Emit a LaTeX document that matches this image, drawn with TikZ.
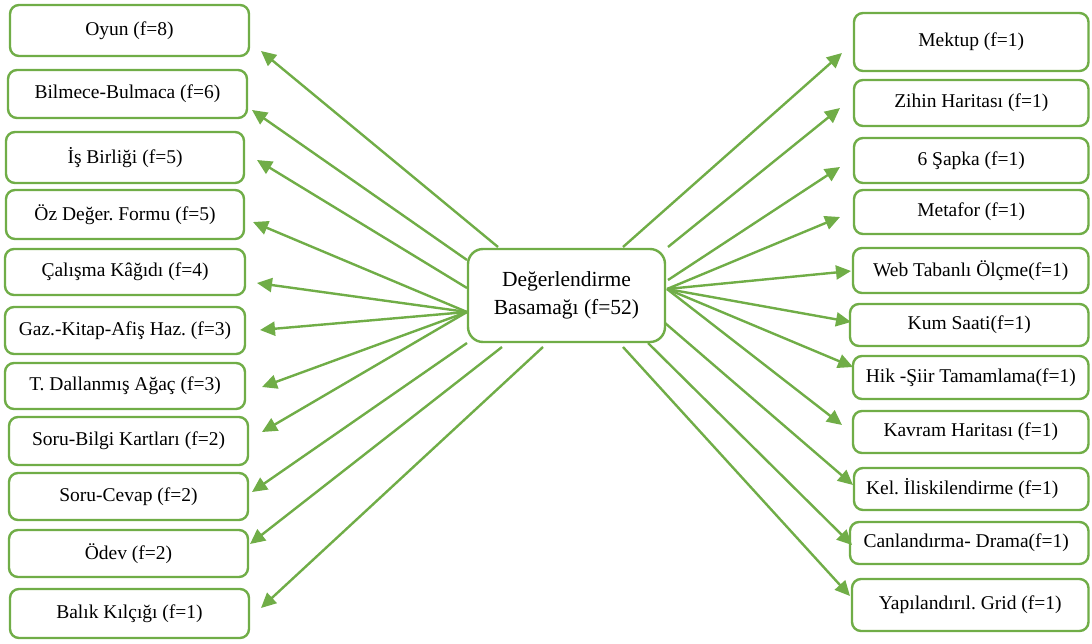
\documentclass[tikz,border=0pt]{standalone}
\usepackage{fontspec}
\setmainfont{Liberation Serif}
\frenchspacing
\usetikzlibrary{arrows.meta}
\definecolor{grn}{RGB}{112,173,71}
\tikzset{
  box/.style={draw=grn, line width=2.4pt, rounded corners=9pt, fill=white, inner sep=0pt,
    font=\fontsize{19.5}{22}\selectfont, text=black},
  cbox/.style={draw=grn, line width=2.4pt, rounded corners=15pt, fill=white, inner sep=0pt,
    align=center, font=\fontsize{21.5}{28}\selectfont, text=black},
  arr/.style={draw=grn, line width=2.4pt, -{Triangle[length=15pt,width=14pt]}}
}
\begin{document}
\begin{tikzpicture}[x=1pt,y=-1pt]
\useasboundingbox (0,0) rectangle (1092,643);
% centre
\node[cbox, minimum width=197pt, minimum height=93pt] (c) at (566.5,295.5) {Değerlendirme\\Basamağı (f=52)};
% left boxes
\node[box, minimum width=239pt, minimum height=51pt] (l1) at (129.5,30.5) {Oyun (f=8)};
\node[box, minimum width=239pt, minimum height=48pt] (l2) at (127.5,94) {Bilmece-Bulmaca (f=6)};
\node[box, minimum width=238pt, minimum height=51pt] (l3) at (125,157.5) {İş Birliği (f=5)};
\node[box, minimum width=238pt, minimum height=49pt] (l4) at (125,214.5) {Öz Değer. Formu (f=5)};
\node[box, minimum width=240pt, minimum height=46pt] (l5) at (125,272) {Çalışma Kâğıdı (f=4)};
\node[box, minimum width=240pt, minimum height=47pt] (l6) at (125,330.5) {Gaz.-Kitap-Afiş Haz. (f=3)};
\node[box, minimum width=240pt, minimum height=46pt] (l7) at (125,386) {T. Dallanmış Ağaç (f=3)};
\node[box, minimum width=239pt, minimum height=48pt] (l8) at (128.5,441) {Soru-Bilgi Kartları (f=2)};
\node[box, minimum width=239pt, minimum height=47pt] (l9) at (128.5,496.5) {Soru-Cevap (f=2)};
\node[box, minimum width=239pt, minimum height=47pt] (l10) at (128.5,553.5) {Ödev (f=2)};
\node[box, minimum width=239pt, minimum height=49pt] (l11) at (129.5,613.5) {Balık Kılçığı (f=1)};
% right boxes
\node[box, minimum width=234.5pt, minimum height=58pt] (r1) at (971.25,42) {\raisebox{5pt}{Mektup (f=1)}};
\node[box, minimum width=234.5pt, minimum height=46pt] (r2) at (971.25,103) {Zihin Haritası (f=1)};
\node[box, minimum width=234.5pt, minimum height=45pt] (r3) at (971.25,160.5) {6 Şapka (f=1)};
\node[box, minimum width=234.5pt, minimum height=44pt] (r4) at (971.25,212) {Metafor (f=1)};
\node[box, minimum width=235.5pt, minimum height=45pt] (r5) at (970.75,270.5) {Web Tabanlı Ölçme(f=1)};
\node[box, minimum width=238.5pt, minimum height=42pt] (r6) at (969.25,325) {Kum Saati(f=1)};
\node[box, minimum width=235.5pt, minimum height=43pt] (r7) at (970.75,377.5) {Hik -Şiir Tamamlama(f=1)};
\node[box, minimum width=235.5pt, minimum height=42pt] (r8) at (970.75,432) {Kavram Haritası (f=1)};
\node[box, minimum width=234.5pt, minimum height=42pt] (r9) at (971.25,489) {\hspace*{-18pt}Kel. İliskilendirme (f=1)};
\node[box, minimum width=238.5pt, minimum height=42pt] (r10) at (969.25,543) {\hspace*{-6pt}Canlandırma- Drama(f=1)};
\node[box, minimum width=236.5pt, minimum height=52pt] (r11) at (970.25,605) {Yapılandırıl. Grid (f=1)};
% start points on the centre box
\coordinate (sa1) at (498,247);
\coordinate (sa2) at (467,260);
\coordinate (sa3) at (467,288);
\coordinate (sL)  at (467,312);
\coordinate (sa9) at (467,343);
\coordinate (sa10) at (502,347);
\coordinate (sa11) at (543,347);
\coordinate (sb1) at (623,247);
\coordinate (sb2) at (668,247);
\coordinate (sb3) at (668,280);
\coordinate (sR)  at (667,289);
\coordinate (sb9) at (665,323);
\coordinate (sb10) at (648,343);
\coordinate (sb11) at (623,347);
% arrow tips near the boxes
\coordinate (ta1) at (261,51);
\coordinate (ta2) at (252,110);
\coordinate (ta3) at (257,160);
\coordinate (ta4) at (253,222);
\coordinate (ta5) at (257,283);
\coordinate (ta6) at (260,330);
\coordinate (ta7) at (262,387);
\coordinate (ta8) at (262,432);
\coordinate (ta9) at (252,492);
\coordinate (ta10) at (250,544);
\coordinate (ta11) at (261,608);
\coordinate (tb1) at (842,53);
\coordinate (tb2) at (840,108);
\coordinate (tb3) at (840,167);
\coordinate (tb4) at (840,217);
\coordinate (tb5) at (851,271);
\coordinate (tb6) at (851,322);
\coordinate (tb7) at (853,367);
\coordinate (tb8) at (842,425);
\coordinate (tb9) at (853,485);
\coordinate (tb10) at (852,545);
\coordinate (tb11) at (850,596);
% arrows
\draw[arr] (sa1) -- (ta1);
\draw[arr] (sa2) -- (ta2);
\draw[arr] (sa3) -- (ta3);
\draw[arr] (sL) -- (ta4);
\draw[arr] (sL) -- (ta5);
\draw[arr] (sL) -- (ta6);
\draw[arr] (sL) -- (ta7);
\draw[arr] (sL) -- (ta8);
\draw[arr] (sa9) -- (ta9);
\draw[arr] (sa10) -- (ta10);
\draw[arr] (sa11) -- (ta11);
\draw[arr] (sb1) -- (tb1);
\draw[arr] (sb2) -- (tb2);
\draw[arr] (sb3) -- (tb3);
\draw[arr] (sR) -- (tb4);
\draw[arr] (sR) -- (tb5);
\draw[arr] (sR) -- (tb6);
\draw[arr] (sR) -- (tb7);
\draw[arr] (sR) -- (tb8);
\draw[arr] (sb9) -- (tb9);
\draw[arr] (sb10) -- (tb10);
\draw[arr] (sb11) -- (tb11);
\end{tikzpicture}
\end{document}
